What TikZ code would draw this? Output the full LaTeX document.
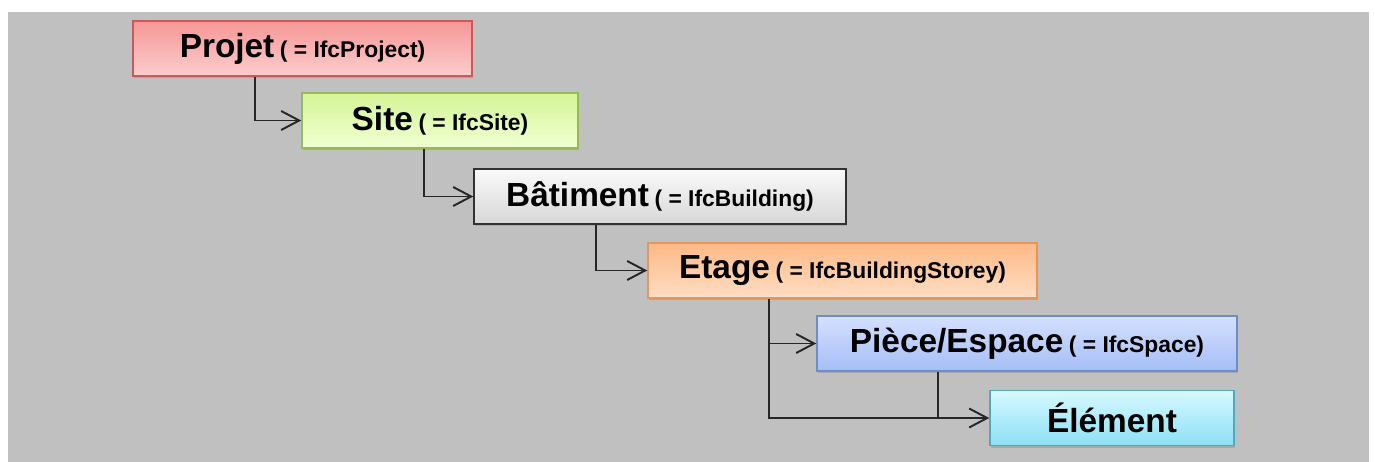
\documentclass[tikz,border=0pt]{standalone}
\usepackage{fontspec}
\setmainfont{Liberation Sans}
\usetikzlibrary{arrows.meta,calc,shadows}

\definecolor{bggray}{RGB}{192,192,192}
\definecolor{projetline}{RGB}{200,90,90}
\definecolor{projettop}{RGB}{246,150,150}
\definecolor{projetbot}{RGB}{252,205,205}
\definecolor{siteline}{RGB}{150,185,90}
\definecolor{sitetop}{RGB}{212,245,150}
\definecolor{sitebot}{RGB}{240,255,210}
\definecolor{batline}{RGB}{50,50,50}
\definecolor{battop}{RGB}{250,250,250}
\definecolor{batbot}{RGB}{215,215,215}
\definecolor{etageline}{RGB}{230,150,90}
\definecolor{etagetop}{RGB}{252,185,135}
\definecolor{etagebot}{RGB}{255,222,195}
\definecolor{pieceline}{RGB}{110,140,200}
\definecolor{piecetop}{RGB}{212,224,255}
\definecolor{piecebot}{RGB}{165,190,245}
\definecolor{elemline}{RGB}{80,170,190}
\definecolor{elemtop}{RGB}{215,248,255}
\definecolor{elembot}{RGB}{140,225,245}
\newcommand{\lvl}[2]{\fontsize{19}{22}\selectfont\bfseries #1\,{\fontsize{13}{15}\selectfont ( = #2)}}

\begin{document}
\begin{tikzpicture}[
    x=0.02cm, y=-0.02cm,
    level/.style={
      draw=#1line, top color=#1top, bottom color=#1bot,
      line width=0.9pt, minimum height=1.1cm, inner sep=0pt,
      drop shadow={shadow xshift=0.6pt, shadow yshift=-1.2pt, opacity=0.35}},
    link/.style={draw=black!85, line width=1.1pt,
      -{Straight Barb[length=3.6mm,width=3.8mm,line width=1.1pt]}},
    wire/.style={draw=black!85, line width=1.1pt},
  ]
  \useasboundingbox (0,0) rectangle (1375,462);
  \fill[bggray] (8,12) rectangle (1369,462);

  % levels of the hierarchy
  \node[level=projet, minimum width=6.78cm]
    (projet) at (302.5,48.5) {\lvl{Projet}{IfcProject}};
  \node[level=site, minimum width=5.52cm]
    (site) at (440,120.5) {\lvl{Site}{IfcSite}};
  \node[level=bat, minimum width=7.44cm]
    (batiment) at (660,196.5) {\lvl{Bâtiment}{IfcBuilding}};
  \node[level=etage, minimum width=7.78cm]
    (etage) at (842.5,270.5) {\lvl{Etage}{IfcBuildingStorey}};
  \node[level=piece, minimum width=8.4cm]
    (piece) at (1027,343.5) {\lvl{Pièce/Espace}{IfcSpace}};
  \node[level=elem, minimum width=4.88cm]
    (element) at (1112,418) {\fontsize{19}{22}\selectfont\bfseries Élément};

  % links
  \coordinate (pdrop) at ($(piece.south west)+(122,0)$);
  \draw[link] ($(projet.south west)+(123,0)$) |- (site.west);
  \draw[link] ($(site.south west)+(123,0)$) |- (batiment.west);
  \draw[link] ($(batiment.south west)+(123,0)$) |- (etage.west);
  \draw[link] ($(etage.south west)+(122,0)$) |- (piece.west);
  \draw[link] ($(etage.south west)+(122,0)$) |- (element.west);
  \draw[wire] (pdrop) -- (pdrop |- element.west);
\end{tikzpicture}
\end{document}
